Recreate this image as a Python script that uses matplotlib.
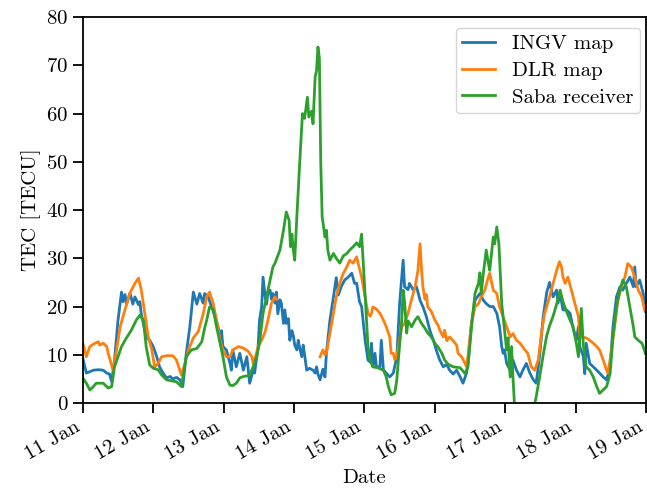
import numpy as np
import pandas as pd
import matplotlib
matplotlib.use('Agg')
import matplotlib.pyplot as plt
import matplotlib.dates as mdates

# TEC values, time given as fractional day of January
ingv_t = [11.00, 11.05, 11.10, 11.15, 11.22, 11.29, 11.34, 11.38, 11.41, 11.45, 11.50, 11.55, 11.57, 11.60,
          11.62, 11.67, 11.71, 11.74, 11.79, 11.81, 11.83, 11.90, 11.95, 12.00, 12.05, 12.09, 12.14, 12.19,
          12.24, 12.28, 12.33, 12.38, 12.42, 12.47, 12.52, 12.57, 12.62, 12.66, 12.71, 12.73, 12.78, 12.83,
          12.88, 12.92, 12.95, 12.97, 12.99, 13.04, 13.09, 13.11, 13.13, 13.18, 13.23, 13.28, 13.33, 13.37,
          13.42, 13.44, 13.49, 13.51, 13.54, 13.56, 13.59, 13.61, 13.63, 13.66, 13.68, 13.70, 13.73, 13.75,
          13.77, 13.80, 13.82, 13.85, 13.87, 13.89, 13.92, 13.94, 13.97, 13.99, 14.01, 14.04, 14.06, 14.08,
          14.11, 14.13, 14.15, 14.18, 14.22, 14.27, 14.30, 14.32, 14.34, 14.37, 14.41, 14.44, 14.46, 14.51,
          14.56, 14.60, 14.63, 14.67, 14.72, 14.77, 14.82, 14.86, 14.89, 14.93, 14.96, 14.98, 15.01, 15.05,
          15.08, 15.10, 15.12, 15.15, 15.17, 15.22, 15.24, 15.27, 15.31, 15.36, 15.41, 15.46, 15.50, 15.55,
          15.57, 15.62, 15.64, 15.69, 15.74, 15.79, 15.83, 15.88, 15.93, 15.98, 16.02, 16.07, 16.12, 16.17,
          16.21, 16.26, 16.31, 16.36, 16.40, 16.45, 16.47, 16.52, 16.57, 16.64, 16.69, 16.73, 16.78, 16.83,
          16.88, 16.92, 16.95, 16.97, 16.99, 17.02, 17.07, 17.11, 17.16, 17.21, 17.25, 17.30, 17.35, 17.40,
          17.44, 17.49, 17.54, 17.59, 17.63, 17.68, 17.73, 17.75, 17.78, 17.82, 17.87, 17.92, 17.96, 18.01,
          18.04, 18.06, 18.11, 18.13, 18.15, 18.20, 18.25, 18.30, 18.34, 18.39, 18.44, 18.49, 18.53, 18.58,
          18.63, 18.67, 18.72, 18.77, 18.82, 18.84, 18.86, 18.91, 18.96, 18.99]
ingv_v = [9.3, 6.2, 6.5, 6.8, 6.9, 6.8, 6.2, 6.0, 4.4, 8.9, 17.2, 23.0, 21.0, 22.5,
          20.4, 22.8, 20.5, 22.0, 20.4, 21.0, 18.5, 13.7, 13.0, 11.7, 9.6, 7.5, 6.2, 5.2,
          5.5, 5.0, 5.3, 4.8, 3.4, 10.3, 15.8, 23.0, 20.5, 22.7, 20.7, 22.7, 22.0, 19.9,
          17.9, 15.8, 13.7, 15.0, 11.7, 11.0, 8.2, 6.8, 11.0, 7.5, 10.3, 6.8, 9.6, 4.1,
          6.8, 6.2, 11.7, 17.2, 19.9, 26.1, 22.0, 20.5, 23.0, 23.4, 21.5, 22.7, 20.7, 23.0,
          18.5, 21.4, 20.7, 16.5, 19.3, 16.5, 17.5, 13.0, 15.0, 14.0, 12.0, 11.0, 13.0, 11.5,
          9.6, 12.0, 10.0, 6.8, 7.2, 6.8, 6.2, 7.5, 6.0, 4.8, 7.0, 5.4, 10.3, 17.2,
          22.0, 26.0, 22.4, 24.1, 25.5, 26.1, 26.9, 24.8, 24.8, 21.0, 20.0, 17.2, 13.0, 8.9,
          8.5, 12.4, 7.5, 10.3, 7.5, 7.5, 13.0, 6.8, 6.2, 5.4, 6.2, 9.6, 20.7, 29.6,
          24.1, 23.5, 24.8, 23.5, 24.1, 21.3, 20.0, 17.9, 15.0, 13.0, 11.0, 8.9, 7.5, 8.0,
          6.8, 6.0, 6.8, 5.4, 4.1, 6.2, 8.2, 16.5, 21.3, 22.7, 21.3, 20.6, 20.0, 20.0,
          18.6, 15.8, 11.7, 10.3, 11.0, 8.2, 6.8, 8.9, 6.8, 5.4, 6.8, 8.2, 6.2, 4.8,
          4.1, 10.0, 18.0, 23.0, 25.0, 22.0, 23.4, 20.7, 22.7, 19.3, 19.3, 18.6, 15.8, 13.0,
          15.8, 11.7, 9.6, 6.1, 12.4, 8.2, 7.5, 6.8, 6.2, 5.4, 4.8, 7.5, 15.8, 22.0,
          24.1, 23.4, 24.8, 26.1, 24.1, 28.2, 24.1, 25.5, 22.7, 19.0]

dlr_t = [11.00, 11.05, 11.10, 11.15, 11.22, 11.24, 11.29, 11.34, 11.36, 11.43, 11.48, 11.53, 11.60, 11.67,
         11.74, 11.79, 11.83, 11.88, 11.93, 11.98, 12.02, 12.07, 12.12, 12.19, 12.28, 12.33, 12.40, 12.45,
         12.50, 12.57, 12.64, 12.71, 12.76, 12.80, 12.85, 12.90, 12.95, 12.99, 13.04, 13.09, 13.13, 13.21,
         13.28, 13.35, 13.40, 13.42, 13.44, 13.49, 13.54, 13.59, 13.63, 13.68, 13.73, 13.75, 13.80,
         14.37, 14.41, 14.44, 14.46, 14.51, 14.56, 14.60, 14.65, 14.70, 14.75, 14.79, 14.84, 14.89, 14.91,
         14.96, 15.01, 15.05, 15.08, 15.10, 15.12, 15.17, 15.22, 15.27, 15.31, 15.36, 15.38, 15.41, 15.43,
         15.46, 15.48, 15.53, 15.57, 15.62, 15.67, 15.72, 15.76, 15.79, 15.81, 15.83, 15.86, 15.88, 15.90,
         15.95, 16.00, 16.05, 16.07, 16.12, 16.14, 16.17, 16.21, 16.26, 16.31, 16.33, 16.38, 16.43, 16.45,
         16.47, 16.52, 16.57, 16.62, 16.66, 16.71, 16.76, 16.78, 16.81, 16.83, 16.88, 16.92, 16.97, 17.02,
         17.07, 17.11, 17.16, 17.21, 17.28, 17.32, 17.37, 17.42, 17.47, 17.52, 17.56, 17.61, 17.68, 17.73,
         17.77, 17.80, 17.82, 17.85, 17.89, 17.94, 17.99, 18.04, 18.06, 18.15, 18.20, 18.25, 18.30, 18.34,
         18.39, 18.44, 18.46, 18.51, 18.56, 18.60, 18.65, 18.70, 18.74, 18.79, 18.84, 18.89, 18.94, 18.98]
dlr_v = [12.4, 9.6, 11.7, 12.2, 12.7, 12.0, 12.4, 11.7, 10.3, 6.8, 11.0, 15.8, 19.4, 22.8,
         24.8, 25.9, 23.5, 18.6, 13.7, 11.0, 7.5, 8.2, 9.6, 9.8, 9.8, 8.9, 5.8, 8.2,
         11.0, 13.5, 14.8, 18.5, 22.0, 23.0, 20.7, 17.2, 13.0, 11.0, 9.6, 9.6, 11.0, 11.7,
         11.4, 10.7, 9.6, 8.2, 8.9, 11.7, 13.0, 14.8, 17.2, 20.7, 22.0, 21.5, np.nan,
         9.6, 11.0, 10.0, 10.3, 14.5, 18.6, 22.0, 24.8, 26.9, 28.2, 29.6, 29.0, 30.3, 29.0,
         26.1, 22.0, 18.6, 18.0, 18.6, 19.9, 19.5, 18.6, 17.2, 15.8, 13.7, 10.3, 10.3, 9.0,
         9.6, 11.5, 15.8, 16.5, 18.6, 21.5, 24.1, 27.5, 33.0, 28.0, 24.1, 21.5, 22.5, 19.9,
         19.0, 17.2, 16.0, 15.1, 13.7, 15.1, 12.9, 13.7, 12.9, 12.0, 10.3, 9.6, 8.2, 7.5,
         9.6, 16.5, 19.9, 20.6, 22.0, 23.4, 26.1, 26.9, 24.8, 23.4, 22.7, 19.9, 17.9, 15.8,
         13.7, 14.4, 13.0, 12.4, 11.0, 10.3, 7.5, 6.8, 9.0, 15.1, 18.6, 21.0, 24.8, 27.5,
         29.3, 28.2, 26.1, 24.8, 26.1, 23.4, 20.6, 17.9, 13.7, 13.5, 13.0, 12.4, 11.7, 11.0,
         9.0, 6.8, 6.2, 11.0, 16.5, 21.3, 24.1, 26.1, 28.9, 28.2, 26.1, 23.4, 22.0, 19.3]

saba_t = [11.00, 11.05, 11.10, 11.15, 11.19, 11.29, 11.36, 11.41, 11.45, 11.50, 11.55, 11.62, 11.69, 11.76,
          11.81, 11.86, 11.90, 11.95, 12.00, 12.07, 12.12, 12.19, 12.33, 12.40, 12.47, 12.54, 12.62, 12.69,
          12.73, 12.76, 12.80, 12.85, 12.90, 12.95, 12.99, 13.04, 13.09, 13.13, 13.18, 13.23, 13.28, 13.33,
          13.37, 13.42, 13.47, 13.51, 13.56, 13.61, 13.66, 13.70, 13.73, 13.80, 13.85, 13.89, 13.93, 13.95,
          13.97, 13.99, 14.01, 14.04, 14.08, 14.12, 14.15, 14.19, 14.21, 14.25, 14.27, 14.30, 14.32, 14.34,
          14.36, 14.38, 14.40, 14.44, 14.46, 14.48, 14.51, 14.56, 14.60, 14.65, 14.70, 14.75, 14.79, 14.84,
          14.89, 14.93, 14.96, 14.98, 15.01, 15.03, 15.05, 15.08, 15.12, 15.19, 15.27, 15.31, 15.34, 15.38,
          15.43, 15.46, 15.49, 15.53, 15.55, 15.57, 15.60, 15.62, 15.67, 15.72, 15.76, 15.81, 15.86, 15.90,
          15.95, 16.00, 16.05, 16.10, 16.14, 16.19, 16.26, 16.36, 16.43, 16.47, 16.52, 16.57, 16.62, 16.64,
          16.66, 16.69, 16.73, 16.76, 16.78, 16.81, 16.83, 16.85, 16.88, 16.91, 16.95, 16.99, 17.02, 17.04,
          17.07, 17.09, 17.11, 17.14, 17.25, 17.40, 17.44, 17.49, 17.54, 17.59, 17.63, 17.68, 17.73, 17.78,
          17.82, 17.87, 17.92, 17.96, 18.01, 18.04, 18.06, 18.08, 18.11, 18.15, 18.20, 18.25, 18.30, 18.34,
          18.39, 18.44, 18.49, 18.53, 18.58, 18.63, 18.67, 18.72, 18.77, 18.82, 18.84, 18.89, 18.94, 18.96,
          18.99]
saba_v = [5.2, 4.1, 2.7, 3.4, 4.1, 4.1, 3.1, 3.4, 7.5, 9.6, 11.7, 13.5, 15.1, 17.2,
          18.2, 17.2, 11.7, 7.9, 7.2, 6.9, 5.8, 4.8, 4.4, 3.4, 9.6, 11.0, 11.3, 12.7,
          15.5, 17.2, 19.9, 19.5, 15.8, 12.4, 9.6, 5.4, 3.7, 3.6, 4.1, 5.2, 5.5, 5.6,
          5.8, 7.5, 9.6, 12.5, 18.6, 22.0, 25.5, 28.2, 29.0, 31.7, 35.8, 39.6, 37.9, 32.4,
          35.0, 31.7, 29.6, 38.6, 49.6, 60.0, 59.0, 63.4, 59.3, 60.5, 57.9, 67.6, 68.9, 73.8,
          71.5, 49.6, 38.6, 34.4, 35.8, 31.7, 29.6, 31.0, 30.0, 29.0, 30.5, 31.0, 31.7, 32.4,
          33.2, 32.4, 35.0, 30.0, 22.7, 17.2, 11.7, 8.9, 7.5, 7.3, 6.8, 5.4, 3.4, 1.7,
          2.0, 4.8, 10.3, 17.2, 23.4, 21.0, 14.5, 17.0, 15.8, 17.2, 17.9, 16.5, 15.5, 14.5,
          13.7, 12.4, 11.5, 10.3, 8.9, 8.0, 7.5, 7.3, 6.1, 7.5, 15.5, 22.7, 24.8, 27.0,
          22.7, 27.0, 31.7, 29.0, 27.5, 31.7, 34.4, 33.0, 36.5, 33.0, 20.6, 15.0, 11.0, 13.5,
          5.4, 11.7, 5.4, -2.8, -8.0, -1.4, 1.3, 5.5, 10.0, 14.0, 16.0, 18.0, 20.5, 23.4,
          21.0, 19.0, 17.2, 16.0, 12.4, 9.6, 13.7, 19.6, 12.0, 7.5, 6.8, 5.4, 3.4, 2.0,
          2.7, 3.4, 6.1, 13.7, 19.9, 23.4, 25.5, 24.1, 19.9, 15.8, 13.7, 13.0, 12.4, 11.7,
          10.3]

labels = ['INGV map', 'DLR map', 'Saba receiver']


def to_dates(days):
    # fractional day of January -> timestamps
    return pd.Timestamp('2022-01-01') + pd.to_timedelta(np.asarray(days) - 1, unit='D')


plt.rcParams['font.family'] = 'serif'
plt.rcParams['font.serif'] = ['cmr10']
plt.rcParams['mathtext.fontset'] = 'cm'
plt.rcParams['axes.unicode_minus'] = False
plt.rcParams['axes.formatter.use_mathtext'] = True
plt.rcParams['font.size'] = 15

fig = plt.figure(figsize=(6.47, 4.96), dpi=100)
ax = fig.add_axes([0.128, 0.1875, 0.8705, 0.778])

ax.plot(to_dates(ingv_t), ingv_v, color='tab:blue', lw=2, label=labels[0])
ax.plot(to_dates(dlr_t), dlr_v, color='tab:orange', lw=2, label=labels[1])
ax.plot(to_dates(saba_t), saba_v, color='tab:green', lw=2, label=labels[2])

ax.set_xlim(to_dates([11.0])[0], to_dates([19.0])[0])
ax.set_ylim(0, 80)
ax.xaxis.set_major_locator(mdates.DayLocator())
ax.xaxis.set_major_formatter(mdates.DateFormatter('%d %b'))
plt.setp(ax.get_xticklabels(), rotation=30, ha='right')
ax.tick_params(axis='both', length=7, width=1.3)
for s in ax.spines.values():
    s.set_linewidth(1.3)

ax.set_xlabel('Date')
ax.set_ylabel('TEC [TECU]')
ax.legend(loc='upper right', bbox_to_anchor=(0.989, 0.9715), borderaxespad=0,
          fontsize=15, handlelength=1.6, borderpad=0.3, labelspacing=0.4)

fig.savefig('out.png', dpi=100)
